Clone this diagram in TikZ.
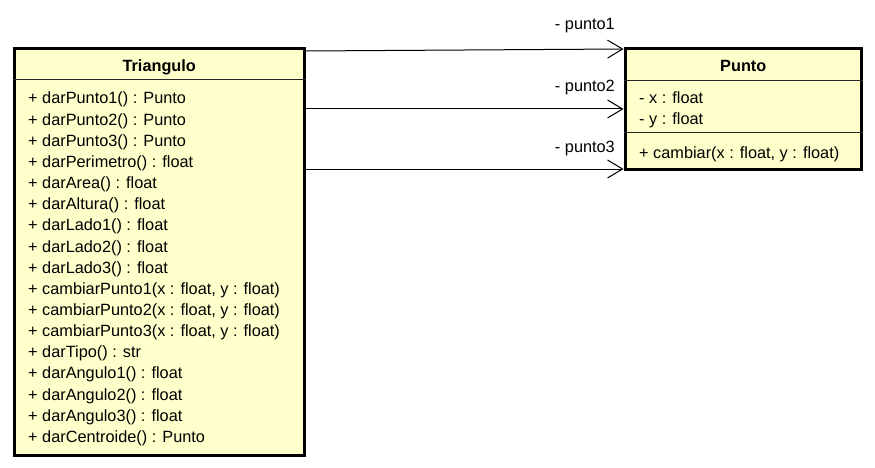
\documentclass[tikz,border=0pt]{standalone}
\usepackage{fontspec}
\setmainfont{Liberation Sans}
\usetikzlibrary{arrows.meta}
\definecolor{umlfill}{HTML}{FFFFCC}
\newcommand{\umlfont}{\fontsize{16.3}{19}\selectfont}

\begin{document}
\begin{tikzpicture}[x=1pt,y=-1pt,
    classbox/.style={draw=black,line width=3pt,fill=umlfill,inner sep=0pt},
    sepline/.style={line width=1pt,black!85},
    member/.style={anchor=base west,inner sep=0pt,font=\umlfont},
    title/.style={anchor=base,inner sep=0pt,font=\umlfont\bfseries},
    assoc/.style={line width=1pt,-{Straight Barb[length=15pt,width=18pt,line width=1pt]}}]
    \useasboundingbox (0,0) rectangle (875,468);
    %\draw[help lines] (0,0) grid[step=50pt] (875,468);
    % classes
    \node[classbox,minimum width=290.5pt,minimum height=406.5pt] (tri) at (159.25,251.75) {};
    \node[classbox,minimum width=236.5pt,minimum height=120.5pt] (pun) at (743.25,108.75) {};
    \draw[sepline] (tri.west |- 0,80) -- (tri.east |- 0,80);
    \draw[sepline] (pun.west |- 0,81) -- (pun.east |- 0,81);
    \draw[sepline] (pun.west |- 0,133) -- (pun.east |- 0,133);
    \node[title] (tritit) at (159.25,72) {Triangulo};
    \node[title] (puntit) at (743.25,72) {Punto};
    \foreach \m [count=\i from 0] in {darPunto1() : Punto,darPunto2() : Punto,darPunto3() : Punto,
        darPerimetro() : float,darArea() : float,darAltura() : float,darLado1() : float,
        darLado2() : float,darLado3() : float,{cambiarPunto1(x : float, y : float)},
        {cambiarPunto2(x : float, y : float)},{cambiarPunto3(x : float, y : float)},
        darTipo() : str,darAngulo1() : float,darAngulo2() : float,darAngulo3() : float,
        darCentroide() : Punto}
        \node[member] (tm\i) at (28,104+21.15*\i) {+ \m};
    \node[member] (px) at (639,103.5) {- x : float};
    \node[member] (py) at (639,124.5) {- y : float};
    \node[member] (pc) at (639,158.5) {+ cambiar(x : float, y : float)};
    % associations
    \coordinate (t1) at (tri.east |- 0,51);
    \coordinate (t2) at (tri.east |- 0,109);
    \coordinate (t3) at (tri.east |- 0,169);
    \coordinate (p1) at (pun.west |- 0,49);
    \coordinate (p2) at (pun.west |- 0,109);
    \coordinate (p3) at (pun.west |- 0,169);
    \draw[assoc] (t1) -- (p1);
    \draw[assoc] (t2) -- (p2);
    \draw[assoc] (t3) -- (p3);
    \node[member,anchor=base east] (l1) at (615,30) {- punto1};
    \node[member,anchor=base east] (l2) at (615,92) {- punto2};
    \node[member,anchor=base east] (l3) at (615,152.5) {- punto3};
\end{tikzpicture}
\end{document}
